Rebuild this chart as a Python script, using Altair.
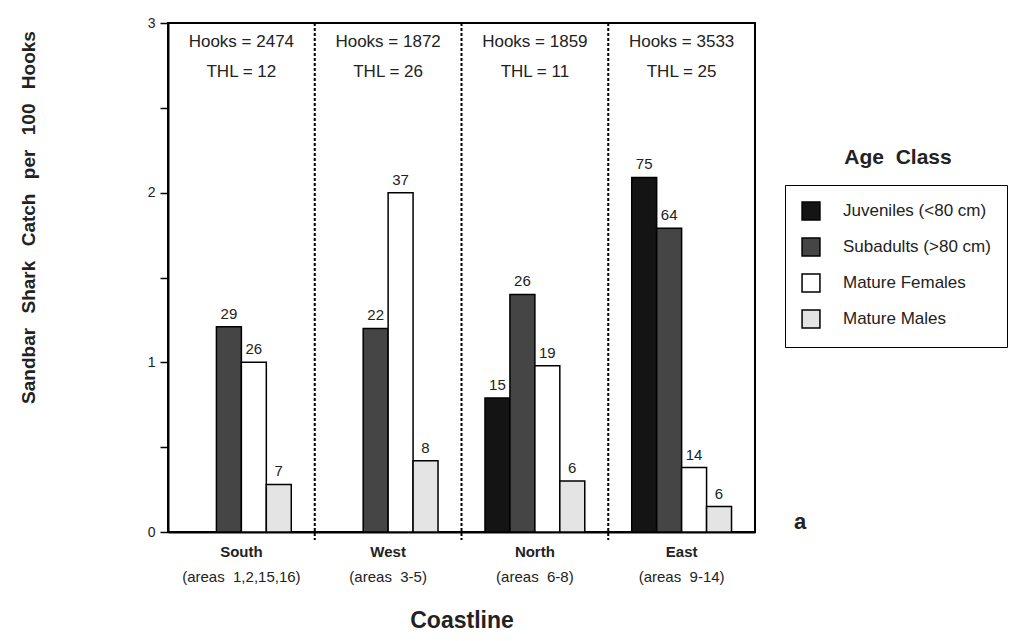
import altair as alt
import pandas as pd

# ---- data ----
coasts = ["South", "West", "North", "East"]
areas = ["(areas\u00a0\u00a01,2,15,16)", "(areas\u00a0\u00a03-5)", "(areas\u00a0\u00a06-8)", "(areas\u00a0\u00a09-14)"]
hooks = [2474, 1872, 1859, 3533]
thl = [12, 26, 11, 25]

ages = ["Juveniles (<80 cm)", "Subadults (>80 cm)", "Mature Females", "Mature Males"]
fills = ["#141414", "#454545", "#ffffff", "#e4e4e4"]

juv_cpue = [None, None, 0.79, 2.09]
sub_cpue = [1.21, 1.20, 1.40, 1.79]
fem_cpue = [1.00, 2.00, 0.98, 0.38]
mal_cpue = [0.28, 0.42, 0.30, 0.15]

juv_n = [None, None, 15, 75]
sub_n = [29, 22, 26, 64]
fem_n = [26, 37, 19, 14]
mal_n = [7, 8, 6, 6]

# ---- build tables ----
rows = []
for age, vals, ns in zip(ages, [juv_cpue, sub_cpue, fem_cpue, mal_cpue],
                         [juv_n, sub_n, fem_n, mal_n]):
    for c, v, n in zip(coasts, vals, ns):
        if v is not None:
            rows.append({"Coastline": c, "Age": age, "CPUE": v, "N": n})
bars_df = pd.DataFrame(rows)

coast_df = pd.DataFrame({
    "Coastline": coasts,
    "Areas": areas,
    "HooksTxt": [f"Hooks = {h}" for h in hooks],
    "THLTxt": [f"THL = {t}" for t in thl],
})
bound_df = pd.DataFrame({"b": [1, 2, 3]})

FONT = "Liberation Sans"
W, H = 587, 509
SP = "\u00a0\u00a0"
SP3 = "\u00a0\u00a0\u2009"

xenc = alt.X(
    "Coastline:N", sort=coasts,
    scale=alt.Scale(paddingInner=0.32, paddingOuter=0.16),
    axis=alt.Axis(
        title="Coastline", titleFontSize=23, titleFontWeight="bold",
        titleY=88, titleBaseline="middle", titleColor="#222",
        labelFontWeight="bold", labelFontSize=15, labelPadding=12,
        labelAngle=0, labelColor="#222", ticks=False,
        domainColor="black", domainWidth=2,
    ),
)
yenc = alt.Y(
    "CPUE:Q", scale=alt.Scale(domain=[0, 3], nice=False),
    axis=alt.Axis(
        values=[0, 0.5, 1, 1.5, 2, 2.5, 3],
        labelExpr="datum.value % 1 === 0 ? format(datum.value, 'd') : ''",
        tickSize=8, tickColor="black", tickWidth=1.5,
        labelFontSize=14, labelPadding=5, labelColor="#222",
        grid=False, domainColor="black", domainWidth=2,
        title=SP3.join(["Sandbar", "Shark", "Catch", "per", "100", "Hooks"]),
        titleFontSize=19, titleFontWeight="bold", titleColor="#222",
        titleX=-140, titleY=194, titleAngle=270,
        titleAlign="center", titleBaseline="middle",
    ),
)
xoff = alt.XOffset("Age:N", sort=ages)

bars = alt.Chart(bars_df).mark_bar(stroke="black", strokeWidth=1.5).encode(
    x=xenc, xOffset=xoff, y=yenc,
    color=alt.Color(
        "Age:N", sort=ages,
        scale=alt.Scale(domain=ages, range=fills),
        legend=alt.Legend(
            title=None, orient="none", legendX=617, legendY=162,
            strokeColor="black", padding=16,
            symbolType="square", symbolSize=320,
            symbolStrokeColor="black", symbolStrokeWidth=1.5,
            symbolOpacity=1,
            labelFontSize=17, labelFont=FONT, labelColor="#222",
            labelOffset=22, rowPadding=12, labelLimit=300,
        ),
    ),
)

nlabels = alt.Chart(bars_df).mark_text(
    dy=-13, fontSize=15, baseline="middle", color="#222"
).encode(x=xenc, xOffset=xoff, y=yenc, text="N:Q")

hooks_t = alt.Chart(coast_df).mark_text(
    fontSize=17, baseline="middle", color="#222"
).encode(x=xenc, y=alt.value(19), text="HooksTxt:N")

thl_t = alt.Chart(coast_df).mark_text(
    fontSize=17, baseline="middle", color="#222"
).encode(x=xenc, y=alt.value(49), text="THLTxt:N")

areas_t = alt.Chart(coast_df).mark_text(
    fontSize=15, baseline="middle", color="#222"
).encode(x=xenc, y=alt.value(H + 45), text="Areas:N")

legend_title = alt.Chart(pd.DataFrame({"t": ["Age" + SP + "Class"]})).mark_text(
    fontSize=21, fontWeight="bold", baseline="middle", color="#222"
).encode(x=alt.value(730), y=alt.value(135), text="t:N")

panel_tag = alt.Chart(pd.DataFrame({"t": ["a"]})).mark_text(
    fontSize=22, fontWeight="bold", baseline="middle", color="#222"
).encode(x=alt.value(632), y=alt.value(499), text="t:N")

inner = alt.layer(bars, nlabels, hooks_t, thl_t, areas_t, legend_title, panel_tag)

rules = alt.Chart(bound_df).mark_rule(
    strokeDash=[3, 2], strokeWidth=2, color="black"
).encode(
    x=alt.X("b:Q", scale=alt.Scale(domain=[0, 4]), axis=None),
    y=alt.value(0), y2=alt.value(H + 8),
)

chart = alt.layer(inner, rules).resolve_scale(x="independent").properties(
    width=W, height=H,
    autosize=alt.AutoSizeParams(type="none"),
    padding={"left": 168, "top": 23, "right": 1032 - 168 - W, "bottom": 641 - 23 - H},
    background="white",
).configure(
    font=FONT
).configure_view(
    stroke="black", strokeWidth=2
)

chart.save("out.html", embed_options={"renderer": "svg", "actions": False})
